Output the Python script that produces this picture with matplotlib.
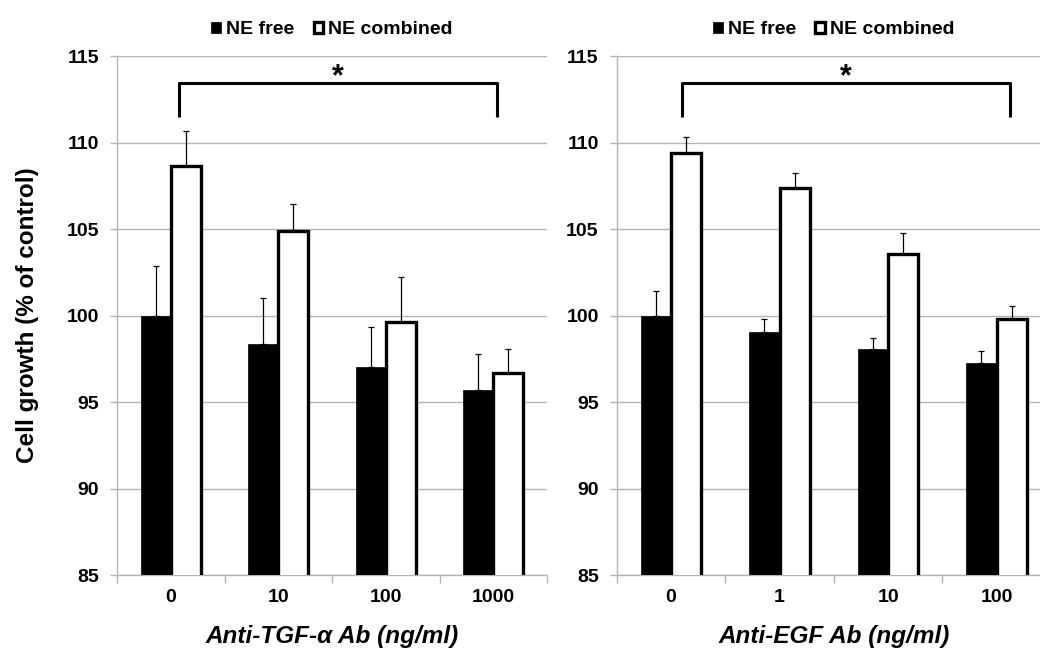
import matplotlib
matplotlib.use("Agg")
import matplotlib.pyplot as plt
import numpy as np

plt.rcParams["font.family"] = ["Liberation Sans", "DejaVu Sans"]
plt.rcParams["font.weight"] = "bold"

tgf_doses = ["0", "10", "100", "1000"]
tgf_free = [100.0, 98.37, 97.02, 95.72]
tgf_free_err = [2.85, 2.63, 2.34, 2.07]
tgf_comb = [108.65, 104.9, 99.62, 96.67]
tgf_comb_err = [2.05, 1.55, 2.63, 1.38]

egf_doses = ["0", "1", "10", "100"]
egf_free = [100.0, 99.04, 98.07, 97.27]
egf_free_err = [1.45, 0.76, 0.64, 0.67]
egf_comb = [109.4, 107.38, 103.55, 99.8]
egf_comb_err = [0.95, 0.87, 1.2, 0.78]

panels = [
    (tgf_doses, tgf_free, tgf_free_err, tgf_comb, tgf_comb_err,
     "Anti-TGF-α Ab (ng/ml)", (0.08, 3.03)),
    (egf_doses, egf_free, egf_free_err, egf_comb, egf_comb_err,
     "Anti-EGF Ab (ng/ml)", (0.10, 3.12)),
]

fig = plt.figure(figsize=(10.4, 6.51), dpi=100)
axes = [fig.add_axes([0.1125, 0.1167, 0.4135, 0.797]),
        fig.add_axes([0.593, 0.1167, 0.4175, 0.797])]

grid_c = "#b4b4b4"
w = 0.28
for ax, (doses, free, free_err, comb, comb_err, xlabel, br) in zip(axes, panels):
    x = np.arange(len(doses))
    ax.bar(x - w / 2, free, w, color="black", edgecolor="black",
           linewidth=0.5, label="NE free", zorder=3)
    ax.bar(x + w / 2, comb, w, color="white", edgecolor="black",
           linewidth=2.4, label="NE combined", zorder=3)
    ax.errorbar(x - w / 2, free, yerr=[np.zeros(len(free)), free_err],
                fmt="none", ecolor="black", elinewidth=0.9, capsize=2.5,
                capthick=0.9, zorder=2)
    ax.errorbar(x + w / 2, comb, yerr=[np.zeros(len(comb)), comb_err],
                fmt="none", ecolor="black", elinewidth=0.9, capsize=2.5,
                capthick=0.9, zorder=2)

    ax.set_ylim(85, 115)
    ax.set_xlim(-0.5, len(doses) - 0.5)
    ax.set_yticks([85, 90, 95, 100, 105, 110, 115])
    ax.yaxis.grid(True, color=grid_c, linewidth=1.0, zorder=0)
    ax.set_axisbelow(True)
    ax.set_xticks(x)
    ax.set_xticklabels(doses, fontsize=14, fontweight="bold")
    ax.set_xticks(np.arange(len(doses) + 1) - 0.5, minor=True)
    ax.tick_params(axis="x", which="major", length=0, pad=10)
    ax.tick_params(axis="x", which="minor", length=6, color=grid_c, width=1)
    ax.tick_params(axis="y", length=5, color=grid_c, width=1,
                   labelsize=14, pad=8)
    for lab in ax.get_yticklabels():
        lab.set_fontweight("bold")
    for s in ["top", "right"]:
        ax.spines[s].set_visible(False)
    for s in ["left", "bottom"]:
        ax.spines[s].set_color(grid_c)
        ax.spines[s].set_linewidth(1.0)
    ax.set_xlabel(xlabel, fontsize=17.5, fontweight="bold", style="italic",
                  labelpad=14)

    # significance bracket
    x0, x1 = br
    ax.plot([x0, x0, x1, x1], [111.5, 113.45, 113.45, 111.5], color="black",
            linewidth=2.2, solid_capstyle="butt", zorder=4, clip_on=False)
    ax.text((x0 + x1) / 2, 113.3, "*", ha="center", va="baseline",
            fontsize=22, fontweight="bold")

    ax.legend(loc="lower center", bbox_to_anchor=(0.5, 1.02), ncol=2,
              frameon=False, fontsize=14, handlelength=0.5, handleheight=0.5,
              handletextpad=0.25, columnspacing=1.0, borderaxespad=0)

axes[0].set_ylabel("Cell growth (% of control)", fontsize=17.5,
                   fontweight="bold", labelpad=20)

fig.savefig("out.png", dpi=100)
